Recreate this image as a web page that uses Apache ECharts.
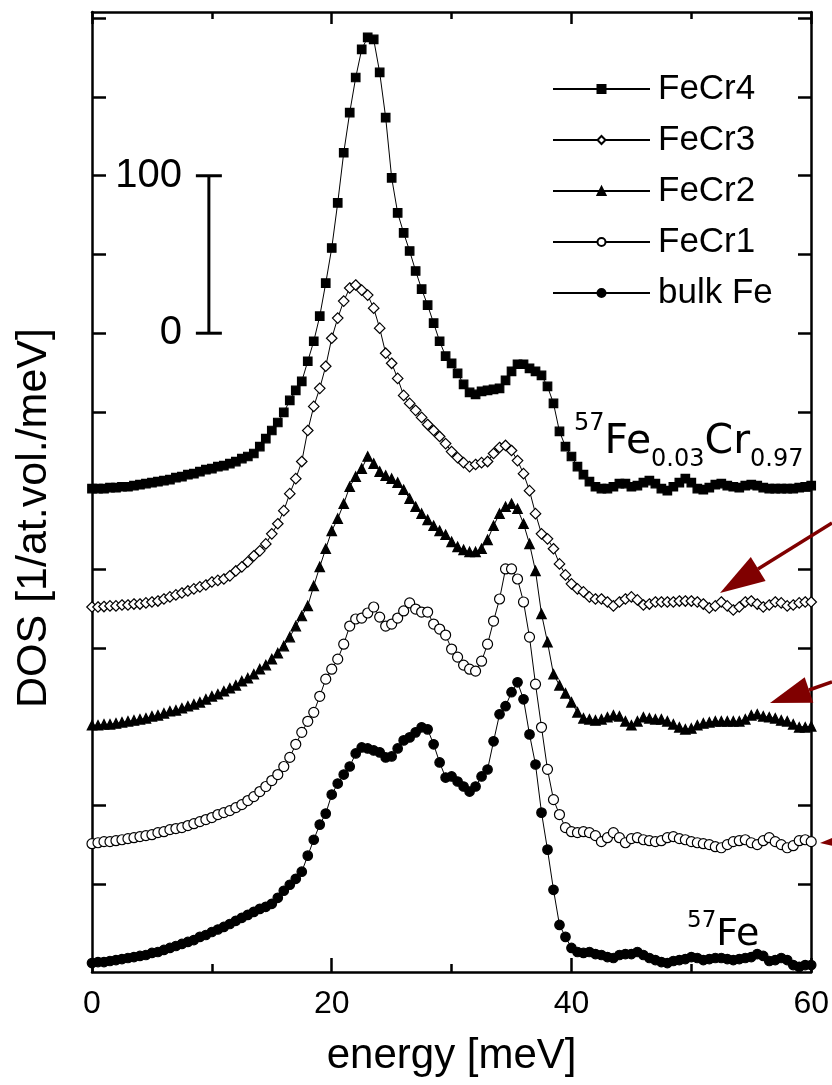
<!DOCTYPE html>
<html>
<head>
<meta charset="utf-8">
<title>57Fe DOS in FeCr</title>
<script src="https://cdn.jsdelivr.net/npm/echarts@6/dist/echarts.min.js"></script>
<style>
  html, body { margin: 0; padding: 0; background: #fff; }
  #chart { width: 832px; height: 1085px; }
</style>
</head>
<body>
<div id="chart"></div>
<script>
// energy grid [meV]
const energy = [
  0, 0.5, 1, 1.5, 2, 2.5, 3, 3.5, 4, 4.5,
  5, 5.5, 6, 6.5, 7, 7.5, 8, 8.5, 9, 9.5,
  10, 10.5, 11, 11.5, 12, 12.5, 13, 13.5, 14, 14.5,
  15, 15.5, 16, 16.5, 17, 17.5, 18, 18.5, 19, 19.5,
  20, 20.5, 21, 21.5, 22, 22.5, 23, 23.5, 24, 24.5,
  25, 25.5, 26, 26.5, 27, 27.5, 28, 28.5, 29, 29.5,
  30, 30.5, 31, 31.5, 32, 32.5, 33, 33.5, 34, 34.5,
  35, 35.5, 36, 36.5, 37, 37.5, 38, 38.5, 39, 39.5,
  40, 40.5, 41, 41.5, 42, 42.5, 43, 43.5, 44, 44.5,
  45, 45.5, 46, 46.5, 47, 47.5, 48, 48.5, 49, 49.5,
  50, 50.5, 51, 51.5, 52, 52.5, 53, 53.5, 54, 54.5,
  55, 55.5, 56, 56.5, 57, 57.5, 58, 58.5, 59, 59.5,
  60
]

const seriesNames = ['FeCr4', 'FeCr3', 'FeCr2', 'FeCr1', 'bulk Fe']
// each curve is shifted up by this much (1/at.vol./meV)
const offsets = [300, 225, 150, 75, 0]

const dosFeCr4 = [
  1.3, 1.3, 1.3, 1.9, 1.9, 2.5, 2.5, 3.2, 3.8, 4.5,
  5.1, 5.7, 6.4, 7.0, 8.3, 8.9, 10.2, 10.8, 12.1, 13.4,
  14.0, 15.3, 15.9, 17.2, 18.5, 20.4, 21.7, 23.6, 28.0, 33.1,
  38.2, 43.3, 49.7, 57.3, 63.7, 69.4, 82.2, 94.9, 110.8, 131.8,
  154.1, 182.8, 214.6, 240.1, 262.4, 280.3, 287.9, 286.6, 265.6, 236.9,
  198.7, 176.4, 163.7, 152.2, 139.5, 128.0, 117.8, 106.4, 94.9, 85.4,
  80.9, 74.5, 67.5, 62.4, 61.1, 63.1, 63.7, 64.3, 65.0, 70.1,
  75.8, 80.3, 80.3, 77.7, 75.8, 73.2, 66.2, 55.4, 37.6, 28.0,
  21.7, 15.3, 10.2, 5.7, 2.5, 1.3, 1.3, 2.5, 4.5, 4.5,
  2.5, 3.2, 5.1, 6.4, 4.5, 1.3, 0, 2.5, 5.1, 7.6,
  5.1, 1.3, 0.6, 1.9, 3.8, 4.5, 3.2, 2.5, 1.9, 3.2,
  3.8, 3.2, 1.9, 1.3, 1.3, 1.3, 1.3, 1.3, 1.9, 2.5,
  3.2
]
const dosFeCr3 = [
  1.1, 1.1, 1.4, 1.8, 1.8, 2.4, 2.4, 3.0, 3.0, 3.7,
  4.3, 4.9, 6.2, 7.5, 8.8, 10.0, 11.3, 12.6, 13.9, 15.1,
  17.0, 18.0, 18.9, 20.9, 24.0, 26.6, 29.8, 33.6, 36.8, 41.2,
  47.6, 54.0, 62.3, 73.1, 82.6, 93.5, 113.2, 128.5, 140.0, 154.0,
  171.8, 184.6, 195.4, 203.7, 205.6, 202.4, 199.2, 190.9, 178.2, 162.3,
  155.9, 146.3, 135.5, 130.4, 126.0, 121.5, 117.0, 113.2, 109.4, 104.9,
  99.8, 96.0, 92.8, 90.3, 91.6, 92.8, 93.5, 98.6, 102.4, 103.7,
  100.5, 94.1, 85.8, 75.0, 60.4, 47.6, 44.4, 38.1, 28.5, 21.5,
  15.8, 12.6, 10.7, 7.5, 6.2, 6.2, 4.3, 1.8, 4.3, 6.2,
  7.5, 5.6, 2.4, 3.0, 4.3, 4.3, 4.3, 4.3, 4.9, 4.9,
  4.9, 4.3, 3.0, 0.5, 1.8, 4.3, 1.8, -0.8, 1.1, 4.3,
  4.9, 3.0, 1.1, 2.4, 4.3, 3.7, 1.8, 2.4, 3.7, 4.3,
  4.3
]
const dosFeCr2 = [
  1.0, 1.0, 1.6, 1.6, 2.2, 2.9, 3.5, 4.1, 4.8, 5.4,
  6.7, 7.3, 8.6, 9.9, 10.5, 11.8, 13.1, 14.3, 15.6, 17.5,
  19.4, 20.7, 22.6, 24.5, 26.4, 29.0, 30.9, 33.4, 36.6, 39.2,
  43.0, 46.8, 51.3, 57.0, 64.0, 70.4, 76.8, 89.5, 101.6, 113.1,
  124.5, 132.2, 141.7, 152.5, 158.9, 164.0, 171.7, 167.2, 162.1, 159.6,
  157.6, 155.1, 150.6, 144.9, 139.8, 135.4, 131.5, 127.7, 124.5, 122.0,
  117.5, 114.3, 112.4, 111.1, 111.1, 113.1, 118.8, 127.7, 135.4, 139.8,
  141.7, 138.5, 129.0, 116.2, 99.0, 71.7, 53.8, 33.4, 26.4, 21.3,
  15.6, 9.2, 5.4, 4.8, 4.1, 4.8, 6.1, 7.3, 6.7, 3.5,
  1.0, 3.5, 6.1, 5.4, 4.8, 4.8, 3.5, 1.6, -0.3, -1.6,
  -1.0, 1.0, 2.2, 2.9, 3.5, 3.5, 3.5, 3.5, 3.5, 4.8,
  7.3, 8.0, 6.7, 6.1, 5.4, 4.1, 3.5, 1.6, -0.3, -0.3,
  0.3
]
const dosFeCr1 = [
  0.8, 1.4, 2.1, 2.1, 2.7, 3.3, 4.0, 4.6, 5.3, 5.9,
  6.5, 7.8, 8.4, 9.7, 10.4, 11.0, 12.3, 13.5, 14.8, 16.1,
  17.4, 19.3, 20.5, 21.8, 23.7, 25.6, 28.2, 30.7, 33.9, 37.1,
  40.9, 44.7, 49.8, 55.6, 63.9, 71.5, 78.5, 84.2, 94.4, 105.3,
  111.6, 118.0, 127.5, 139.0, 143.5, 144.1, 147.3, 151.1, 144.7, 139.0,
  140.3, 144.1, 148.6, 153.7, 149.8, 147.9, 147.9, 140.3, 137.1, 133.3,
  124.4, 119.3, 114.2, 111.6, 110.4, 116.7, 127.5, 142.2, 156.2, 175.3,
  175.3, 168.9, 154.3, 132.0, 102.1, 74.7, 48.0, 28.8, 19.3, 11.0,
  8.4, 7.8, 8.4, 7.8, 5.9, 2.1, 4.6, 7.8, 4.6, 1.4,
  4.0, 4.6, 3.3, 2.7, 2.1, 2.7, 4.6, 5.3, 4.0, 3.3,
  2.1, 1.4, 0.8, 0.2, -1.1, -1.8, 0.2, 2.1, 2.7, 3.3,
  1.4, 0.2, 2.7, 4.6, 2.1, 0.2, -1.8, -0.5, 2.7, 3.3,
  2.1
]
const dosBulkFe = [
  0, 0.6, 0.6, 1.3, 1.9, 2.5, 3.2, 3.8, 4.5, 5.1,
  6.4, 7.0, 8.3, 9.6, 10.8, 12.1, 13.4, 14.6, 16.6, 17.8,
  19.7, 21.3, 22.9, 24.8, 26.8, 28.7, 30.6, 32.5, 34.4, 35.7,
  37.6, 41.4, 45.9, 49.7, 53.5, 58.0, 68.2, 78.3, 87.9, 94.9,
  107.0, 114.0, 119.7, 124.8, 133.1, 136.9, 136.3, 135.0, 133.8, 130.6,
  131.2, 136.3, 141.4, 143.3, 146.5, 149.7, 148.4, 138.9, 127.4, 117.8,
  118.5, 115.3, 112.1, 108.9, 112.1, 118.5, 122.9, 140.8, 158.0, 163.1,
  172.0, 178.3, 167.5, 145.2, 126.1, 95.5, 72.0, 46.5, 24.2, 16.6,
  9.6, 7.0, 6.4, 7.0, 5.7, 5.1, 3.8, 3.2, 5.1, 5.7,
  5.7, 7.0, 5.1, 3.2, 1.9, 0.6, 0, 1.3, 1.9, 2.5,
  3.8, 3.2, 1.9, 2.5, 3.2, 3.2, 2.5, 1.9, 2.5, 3.2,
  3.8, 5.7, 4.5, 1.3, 1.9, 3.2, 1.9, -1.3, -2.5, -1.3,
  -1.3
]

const xTicks = [0, 20, 40, 60]
// scale bar: energy position, lower and upper end (0 .. 100 units)
const scaleBar = [9.75, 400, 500]
const scaleBarLabels = [400, 500]

const dosSets = [dosFeCr4, dosFeCr3, dosFeCr2, dosFeCr1, dosBulkFe]

// marker look of each curve
const markers = {
  'FeCr4': { symbol: 'rect', size: 8.5, fill: '#000' },
  'FeCr3': { symbol: 'diamond', size: 10.5, fill: '#fff' },
  'FeCr2': { symbol: 'triangle', size: 9.5, fill: '#000' },
  'FeCr1': { symbol: 'circle', size: 10, fill: '#fff' },
  'bulk Fe': { symbol: 'circle', size: 9.5, fill: '#000' }
}

const chart = echarts.init(document.getElementById('chart'))

const lineSeries = seriesNames.map((name, i) => {
  const m = markers[name]
  return {
    name: name,
    type: 'line',
    data: energy.map((e, k) => [e, dosSets[i][k] + offsets[i]]),
    symbol: m.symbol,
    symbolSize: m.size,
    showAllSymbol: true,
    lineStyle: { color: '#000', width: 1 },
    itemStyle: { color: m.fill, borderColor: '#000', borderWidth: 1.2 },
    emphasis: { disabled: true },
    z: 2 + i
  }
})

// the "100 / 0" bar
const scaleSeries = {
  type: 'custom',
  silent: true,
  data: [scaleBar],
  renderItem: (params, api) => {
    const lo = api.coord([api.value(0), api.value(1)])
    const hi = api.coord([api.value(0), api.value(2)])
    const half = 13
    const st = { stroke: '#000', lineWidth: 3 }
    return {
      type: 'group',
      children: [
        { type: 'line', shape: { x1: lo[0], y1: lo[1], x2: hi[0], y2: hi[1] }, style: st },
        { type: 'line', shape: { x1: lo[0] - half, y1: lo[1], x2: lo[0] + half, y2: lo[1] }, style: st },
        { type: 'line', shape: { x1: hi[0] - half, y1: hi[1], x2: hi[0] + half, y2: hi[1] }, style: st }
      ]
    }
  }
}

const axisLine = { show: true, onZero: false, lineStyle: { color: '#000', width: 2.5 } }
const tickStyle = { color: '#000', width: 2.5 }
const font = 'Liberation Sans, Arial, Helvetica, sans-serif'
const arrowRed = '#800000'

// y tick marks live on a second grid spanning exactly 0..600
const tickAxis = (pos) => ({
  type: 'value',
  gridIndex: 1,
  position: pos,
  min: 0,
  max: 600,
  interval: 50,
  axisLine: { show: false },
  axisTick: { show: true, inside: true, length: 14, lineStyle: tickStyle },
  axisLabel: { show: false },
  splitLine: { show: false }
})

const option = {
  animation: false,
  backgroundColor: '#fff',
  textStyle: { fontFamily: font, color: '#000' },
  grid: [
    { left: 92, right: 20, top: 12, bottom: 113 },
    { left: 92, right: 20, top: 18.2, bottom: 122 }
  ],
  legend: {
    data: seriesNames,
    orient: 'vertical',
    left: 547,
    top: 66,
    itemWidth: 97,
    itemHeight: 10,
    itemGap: 15,
    selectedMode: false,
    textStyle: { fontSize: 35, lineHeight: 36, color: '#000', fontFamily: font, padding: [0, 0, 0, 3] }
  },
  xAxis: [
    {
      type: 'value',
      position: 'bottom',
      min: 0,
      max: 60,
      interval: 20,
      axisLine: axisLine,
      axisTick: { inside: true, length: 14, lineStyle: tickStyle },
      minorTick: { show: true, splitNumber: 2, length: 8, lineStyle: tickStyle },
      splitLine: { show: false },
      axisLabel: {
        margin: 16,
        fontSize: 32,
        color: '#000',
        fontFamily: font,
        showMinLabel: true,
        showMaxLabel: true,
        formatter: v => (xTicks.includes(v) ? String(v) : '')
      },
      name: 'energy [meV]',
      nameLocation: 'middle',
      nameGap: 63,
      nameTextStyle: { fontSize: 42, color: '#000', fontFamily: font }
    },
    {
      type: 'value',
      position: 'top',
      min: 0,
      max: 60,
      interval: 20,
      axisLine: axisLine,
      axisTick: { inside: true, length: 12, lineStyle: tickStyle },
      minorTick: { show: true, splitNumber: 2, length: 7, lineStyle: tickStyle },
      splitLine: { show: false },
      axisLabel: { show: false }
    },
    {
      type: 'value',
      gridIndex: 1,
      min: 0,
      max: 60,
      show: false
    }
  ],
  yAxis: [
    {
      type: 'value',
      position: 'left',
      min: -5.7,
      max: 604,
      axisLine: axisLine,
      axisTick: { show: false },
      splitLine: { show: false },
      axisLabel: {
        inside: true,
        customValues: scaleBarLabels,
        formatter: v => String(Math.round(v - scaleBarLabels[0])),
        align: 'right',
        margin: 90,
        fontSize: 40,
        color: '#000',
        fontFamily: font
      }
    },
    {
      type: 'value',
      position: 'right',
      min: -5.7,
      max: 604,
      axisLine: axisLine,
      axisTick: { show: false },
      splitLine: { show: false },
      axisLabel: { show: false }
    },
    tickAxis('left'),
    tickAxis('right')
  ],
  graphic: [
    {
      type: 'text',
      x: 34,
      y: 518,
      rotation: Math.PI / 2,
      style: {
        text: 'DOS [1/at.vol./meV]',
        fill: '#000',
        font: '43px ' + font,
        align: 'center',
        verticalAlign: 'middle'
      }
    },
    {
      type: 'text',
      x: 574,
      y: 412,
      z: 20,
      style: {
        text: '{sup|57}{m|Fe}{sub|0.03}{m|Cr}{sub|0.97}',
        fill: '#000',
        align: 'left',
        verticalAlign: 'top',
        rich: {
          m: { fontSize: 41, fontFamily: 'DejaVu Sans', lineHeight: 60, verticalAlign: 'middle' },
          sup: { fontSize: 24, fontFamily: 'DejaVu Sans', lineHeight: 43, verticalAlign: 'top' },
          sub: { fontSize: 24, fontFamily: 'DejaVu Sans', lineHeight: 20, verticalAlign: 'bottom' }
        }
      }
    },
    {
      type: 'text',
      x: 687,
      y: 910,
      z: 20,
      style: {
        text: '{sup|57}{m|Fe}',
        fill: '#000',
        align: 'left',
        verticalAlign: 'top',
        rich: {
          m: { fontSize: 38, fontFamily: 'DejaVu Sans', lineHeight: 50, verticalAlign: 'middle' },
          sup: { fontSize: 23, fontFamily: 'DejaVu Sans', lineHeight: 32, verticalAlign: 'top' }
        }
      }
    },
    // red arrows drawn over the figure
    { type: 'line', z: 30, shape: { x1: 832, y1: 523, x2: 758, y2: 569 }, style: { stroke: arrowRed, lineWidth: 3.5 } },
    { type: 'polygon', z: 30, shape: { points: [[720, 593], [765.6, 581], [750.8, 557]] }, style: { fill: arrowRed } },
    { type: 'line', z: 30, shape: { x1: 832, y1: 682, x2: 809, y2: 690 }, style: { stroke: arrowRed, lineWidth: 3.5 } },
    { type: 'polygon', z: 30, shape: { points: [[770, 703], [813.3, 702.8], [804.7, 677.2]] }, style: { fill: arrowRed } },
    { type: 'polygon', z: 30, shape: { points: [[820, 843], [858, 827], [864, 853]] }, style: { fill: arrowRed } }
  ],
  series: lineSeries.concat([scaleSeries])
}

chart.setOption(option)
</script>
</body>
</html>
